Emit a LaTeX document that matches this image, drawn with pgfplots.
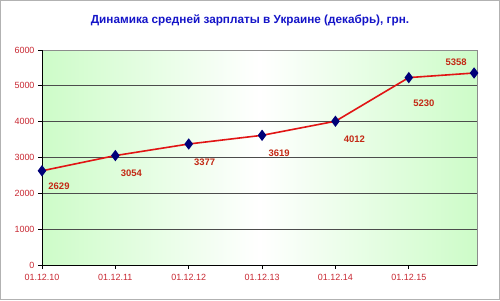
\documentclass[border=0pt]{standalone}
\usepackage{pgfplots}
\pgfplotsset{compat=1.18}
\usepackage{pgfplotstable}
\usepackage{fontspec}
\setmainfont{Liberation Sans}
\definecolor{titleblue}{RGB}{20,20,200}
\definecolor{ticked}{RGB}{200,40,50}
\definecolor{labred}{RGB}{195,40,20}
\definecolor{linered}{RGB}{225,20,20}
\definecolor{navy}{RGB}{0,0,120}
\definecolor{pgreen}{RGB}{205,252,200}
\pgfplotstableread{
x y dx dy lab
0 2629 17 -15 2629
1 3054 16 -18 3054
2 3377 16 -18 3377
3 3619 17 -18 3619
4 4012 19 -18 4012
5 5230 15 -26 5230
5.89 5358 -18 11 5358
}\wages
\begin{document}
\begin{tikzpicture}[x=1bp,y=1bp]
\draw[gray!60, line width=1bp] (0.5,0.5) rectangle (499.5,299.5);
\node[font=\bfseries\fontsize{11.8}{14}\selectfont, text=titleblue] at (250,280) {Динамика средней зарплаты в Украине (декабрь), грн.};
\begin{axis}[
  at={(42bp,35bp)}, anchor=south west,
  scale only axis, width=435bp, height=215bp,
  xmin=0, xmax=5.93, ymin=0, ymax=6000,
  xtick={0,1,2,3,4,5},
  xticklabels={01.12.10,01.12.11,01.12.12,01.12.13,01.12.14,01.12.15},
  ytick={0,1000,2000,3000,4000,5000,6000},
  /pgf/number format/assume math mode=true,
  /pgf/number format/1000 sep={},
  scaled y ticks=false,
  ymajorgrids,
  grid style={black!70, line width=0.8bp},
  tick pos=left, tick align=outside,
  major tick length=4bp,
  tick style={black, line width=0.7bp},
  ticklabel style={font=\fontsize{9}{10}\selectfont, text=ticked},
  xticklabel style={yshift=-2bp},
  axis line style={black!45, line width=0.7bp},
  axis background/.style={left color=pgreen, right color=pgreen, middle color=white},
  clip=false,
]
\addplot[linered, line width=1.6bp, mark=diamond*, mark size=4.4bp,
  mark options={fill=navy, draw=navy},
  nodes near coords, point meta=explicit symbolic,
  visualization depends on={\thisrow{dx} \as \dx},
  visualization depends on={\thisrow{dy} \as \dy},
  every node near coord/.append style={anchor=center, xshift=\dx bp, yshift=\dy bp,
     font=\bfseries\fontsize{9.5}{10}\selectfont, text=labred},
] table[x=x, y=y, meta=lab] {\wages};
\draw[black, line width=0.8bp] (rel axis cs:0,1) -- (rel axis cs:0,0) -- (rel axis cs:1,0);
\end{axis}
\end{tikzpicture}
\end{document}
